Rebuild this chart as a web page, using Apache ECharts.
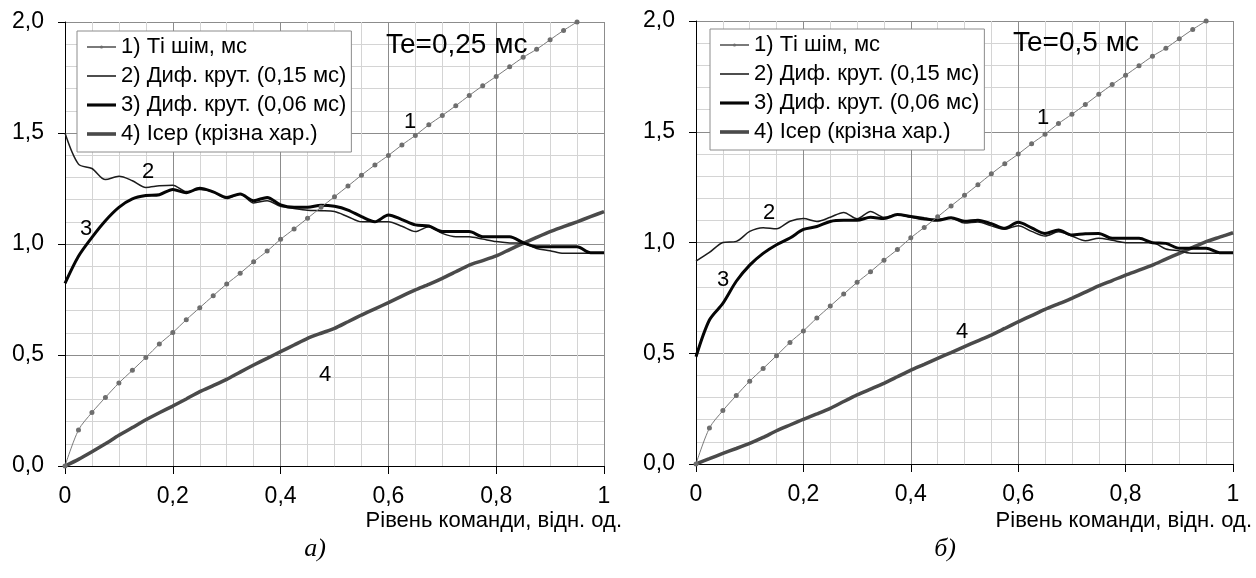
<!DOCTYPE html>
<html>
<head>
<meta charset="utf-8">
<script src="https://cdn.jsdelivr.net/npm/echarts@6/dist/echarts.min.js"></script>
<style>
  html, body { margin: 0; background: #fff; }
  #main { width: 1256px; height: 578px; }
</style>
</head>
<body>
<div id="main"></div>
<script>
// рівень команди, відн. од. (крок 0,025)
var cmd = [0, 0.025, 0.05, 0.075, 0.1, 0.125, 0.15, 0.175, 0.2, 0.225, 0.25, 0.275, 0.3, 0.325, 0.35, 0.375,
  0.4, 0.425, 0.45, 0.475, 0.5, 0.525, 0.55, 0.575, 0.6, 0.625, 0.65, 0.675, 0.7, 0.725, 0.75, 0.775,
  0.8, 0.825, 0.85, 0.875, 0.9, 0.925, 0.95, 0.975, 1]

// 1) Ті шім, мс - однаковий на обох графіках (до 0,95)
var tiShim = [0, 0.162, 0.241, 0.309, 0.374, 0.431, 0.489, 0.549, 0.601, 0.659, 0.713, 0.767, 0.82, 0.868,
  0.92, 0.968, 1.021, 1.068, 1.116, 1.165, 1.213, 1.261, 1.31, 1.356, 1.399, 1.446, 1.489, 1.537, 1.579,
  1.623, 1.669, 1.713, 1.755, 1.798, 1.841, 1.877, 1.92, 1.962, 2.0]

// а) Te=0,25 мс
var difA15 = [1.5, 1.36, 1.34, 1.29, 1.305, 1.285, 1.255, 1.262, 1.265, 1.236, 1.245, 1.235, 1.205, 1.225,
  1.185, 1.195, 1.17, 1.16, 1.152, 1.15, 1.146, 1.123, 1.1, 1.1, 1.1, 1.08, 1.056, 1.078, 1.048, 1.033,
  1.033, 1.022, 1.011, 1.005, 1.003, 0.98, 0.97, 0.958, 0.958, 0.958, 0.958]
var difA06 = [0.823, 0.945, 1.03, 1.105, 1.165, 1.203, 1.218, 1.222, 1.246, 1.231, 1.251, 1.235, 1.21,
  1.225, 1.195, 1.21, 1.176, 1.165, 1.165, 1.175, 1.17, 1.153, 1.123, 1.1, 1.131, 1.11, 1.086, 1.081,
  1.056, 1.056, 1.056, 1.033, 1.033, 1.033, 1.006, 0.988, 0.988, 0.988, 0.988, 0.961, 0.961]
var iserA = [0, 0.03, 0.064, 0.1, 0.138, 0.173, 0.208, 0.24, 0.27, 0.302, 0.335, 0.362, 0.39, 0.423, 0.455,
  0.485, 0.515, 0.545, 0.575, 0.598, 0.62, 0.65, 0.68, 0.708, 0.736, 0.765, 0.793, 0.818, 0.845, 0.875,
  0.905, 0.925, 0.946, 0.975, 1.003, 1.03, 1.056, 1.078, 1.1, 1.123, 1.146]

// б) Te=0,5 мс
var difB15 = [0.916, 0.955, 1.0, 1.005, 1.05, 1.067, 1.062, 1.096, 1.108, 1.095, 1.114, 1.136, 1.107, 1.14,
  1.114, 1.126, 1.114, 1.103, 1.105, 1.11, 1.088, 1.093, 1.075, 1.06, 1.076, 1.05, 1.029, 1.048, 1.029,
  1.008, 1.019, 1.01, 0.999, 0.999, 0.999, 0.971, 0.962, 0.951, 0.951, 0.951, 0.951]
var difB06 = [0.484, 0.65, 0.725, 0.825, 0.898, 0.951, 0.99, 1.02, 1.059, 1.072, 1.095, 1.1, 1.1, 1.114,
  1.108, 1.126, 1.117, 1.108, 1.1, 1.112, 1.096, 1.101, 1.085, 1.064, 1.091, 1.066, 1.041, 1.056, 1.034,
  1.04, 1.041, 1.019, 1.019, 1.019, 0.999, 0.996, 0.974, 0.974, 0.974, 0.954, 0.954]
var iserB = [0, 0.024, 0.048, 0.07, 0.093, 0.12, 0.15, 0.176, 0.202, 0.226, 0.251, 0.282, 0.312, 0.338,
  0.364, 0.394, 0.424, 0.45, 0.477, 0.503, 0.53, 0.556, 0.582, 0.612, 0.642, 0.67, 0.698, 0.723, 0.748,
  0.776, 0.804, 0.828, 0.853, 0.875, 0.898, 0.925, 0.951, 0.978, 1.004, 1.024, 1.044]

var names = ['1) Ті шім, мс', '2) Диф. крут. (0,15 мс)', '3) Диф. крут. (0,06 мс)', '4) Ісер (крізна хар.)']
var xTicks = { 0: '0', 0.2: '0,2', 0.4: '0,4', 0.6: '0,6', 0.8: '0,8', 1: '1' }

var FONT = 'Liberation Sans, Arial, sans-serif'

function pairs(ys) {
  return ys.map(function (y, i) { return [cmd[i], y] })
}

function xAxis(idx) {
  return {
    type: 'value', gridIndex: idx, min: 0, max: 1, interval: 0.2,
    axisLine: { show: true, onZero: false, lineStyle: { color: '#000', width: 1 } },
    axisTick: { show: true, length: 8, lineStyle: { color: '#000' } },
    minorTick: { show: false, splitNumber: 4 },
    splitLine: { show: true, lineStyle: { color: '#8c8c8c', width: 1 } },
    minorSplitLine: { show: true, lineStyle: { color: '#d4d4d4', width: 1 } },
    axisLabel: {
      margin: 19, fontSize: 23, color: '#000', fontFamily: FONT,
      formatter: function (v) { return xTicks[v] !== undefined ? xTicks[v] : String(v).replace('.', ',') }
    }
  }
}

function yAxis(idx) {
  return {
    type: 'value', gridIndex: idx, min: 0, max: 2, interval: 0.5,
    axisLine: { show: true, onZero: false, lineStyle: { color: '#000', width: 1 } },
    axisTick: { show: true, length: 7, lineStyle: { color: '#000' } },
    minorTick: { show: false, splitNumber: 5 },
    splitLine: { show: true, lineStyle: { color: '#8c8c8c', width: 1 } },
    minorSplitLine: { show: true, lineStyle: { color: '#d4d4d4', width: 1 } },
    axisLabel: {
      margin: 21, fontSize: 23, color: '#000', fontFamily: FONT,
      formatter: function (v) { return v.toFixed(1).replace('.', ',') }
    }
  }
}

function seriesFor(idx, d15, d06, iser) {
  return [
    {
      name: names[0], type: 'line', xAxisIndex: idx, yAxisIndex: idx, data: pairs(tiShim),
      smooth: 0.3, symbol: 'circle', symbolSize: 5,
      itemStyle: { color: '#6e6e6e' }, lineStyle: { color: '#7a7a7a', width: 1 }, z: 4
    },
    {
      name: names[1], type: 'line', xAxisIndex: idx, yAxisIndex: idx, data: pairs(d15),
      smooth: 0.3, symbol: 'none', itemStyle: { color: '#1c1c1c' }, lineStyle: { color: '#1c1c1c', width: 1.5 }, z: 3
    },
    {
      name: names[2], type: 'line', xAxisIndex: idx, yAxisIndex: idx, data: pairs(d06),
      smooth: 0.3, symbol: 'none', itemStyle: { color: '#050505' }, lineStyle: { color: '#050505', width: 3 }, z: 3
    },
    {
      name: names[3], type: 'line', xAxisIndex: idx, yAxisIndex: idx, data: pairs(iser),
      smooth: 0.2, symbol: 'none', itemStyle: { color: '#4a4a4a' }, lineStyle: { color: '#4a4a4a', width: 3.5 }, z: 2
    }
  ]
}

// значки легенди: лінії різної товщини
var legendData = [
  { name: names[0] },
  { name: names[1], icon: 'path://M0,0H28V1.5H0Z' },
  { name: names[2], icon: 'path://M0,0H28V3H0Z' },
  { name: names[3], icon: 'path://M0,0H28V3.5H0Z' }
]

function legend(left, top) {
  return {
    left: left, top: top, orient: 'vertical', data: legendData,
    backgroundColor: '#fff', borderColor: '#8c8c8c', borderWidth: 1,
    padding: [5, 5, 7, 9], itemWidth: 29, itemHeight: 4, itemGap: 7,
    textStyle: { fontSize: 22, lineHeight: 22, color: '#000', fontFamily: FONT }
  }
}

function txt(x, y, s, size, extra) {
  var o = { type: 'text', x: x, y: y, z: 100,
    style: { text: s, font: (size || 22) + 'px ' + FONT, fill: '#000', textVerticalAlign: 'middle' } }
  if (extra) Object.assign(o.style, extra)
  return o
}

var myChart = echarts.init(document.getElementById('main'))

var option = {
  animation: false,
  backgroundColor: '#fff',
  grid: [
    { left: 65, top: 22, width: 539, height: 444 },
    { left: 696, top: 21, width: 537, height: 443 }
  ],
  xAxis: [xAxis(0), xAxis(1)],
  yAxis: [yAxis(0), yAxis(1)],
  legend: [legend(77, 31), legend(710, 29)],
  series: seriesFor(0, difA15, difA06, iserA).concat(seriesFor(1, difB15, difB06, iserB)),
  graphic: [
    txt(386, 45, 'Te=0,25 мс', 28),
    txt(1013, 43, 'Te=0,5 мс', 28),
    txt(404, 122, '1'), txt(142, 172, '2'), txt(80, 229, '3'), txt(319, 375, '4'),
    txt(1037, 118, '1'), txt(763, 213, '2'), txt(717, 280, '3'), txt(956, 332, '4'),
    txt(622, 521, 'Рівень команди, відн. од.', 22, { textAlign: 'right' }),
    txt(1252, 521, 'Рівень команди, відн. од.', 22, { textAlign: 'right' }),
    txt(315, 549, 'а)', 26, { textAlign: 'center', font: 'italic 26px Liberation Serif, serif' }),
    txt(945, 549, 'б)', 26, { textAlign: 'center', font: 'italic 26px Liberation Serif, serif' })
  ]
}

myChart.setOption(option)
</script>
</body>
</html>
